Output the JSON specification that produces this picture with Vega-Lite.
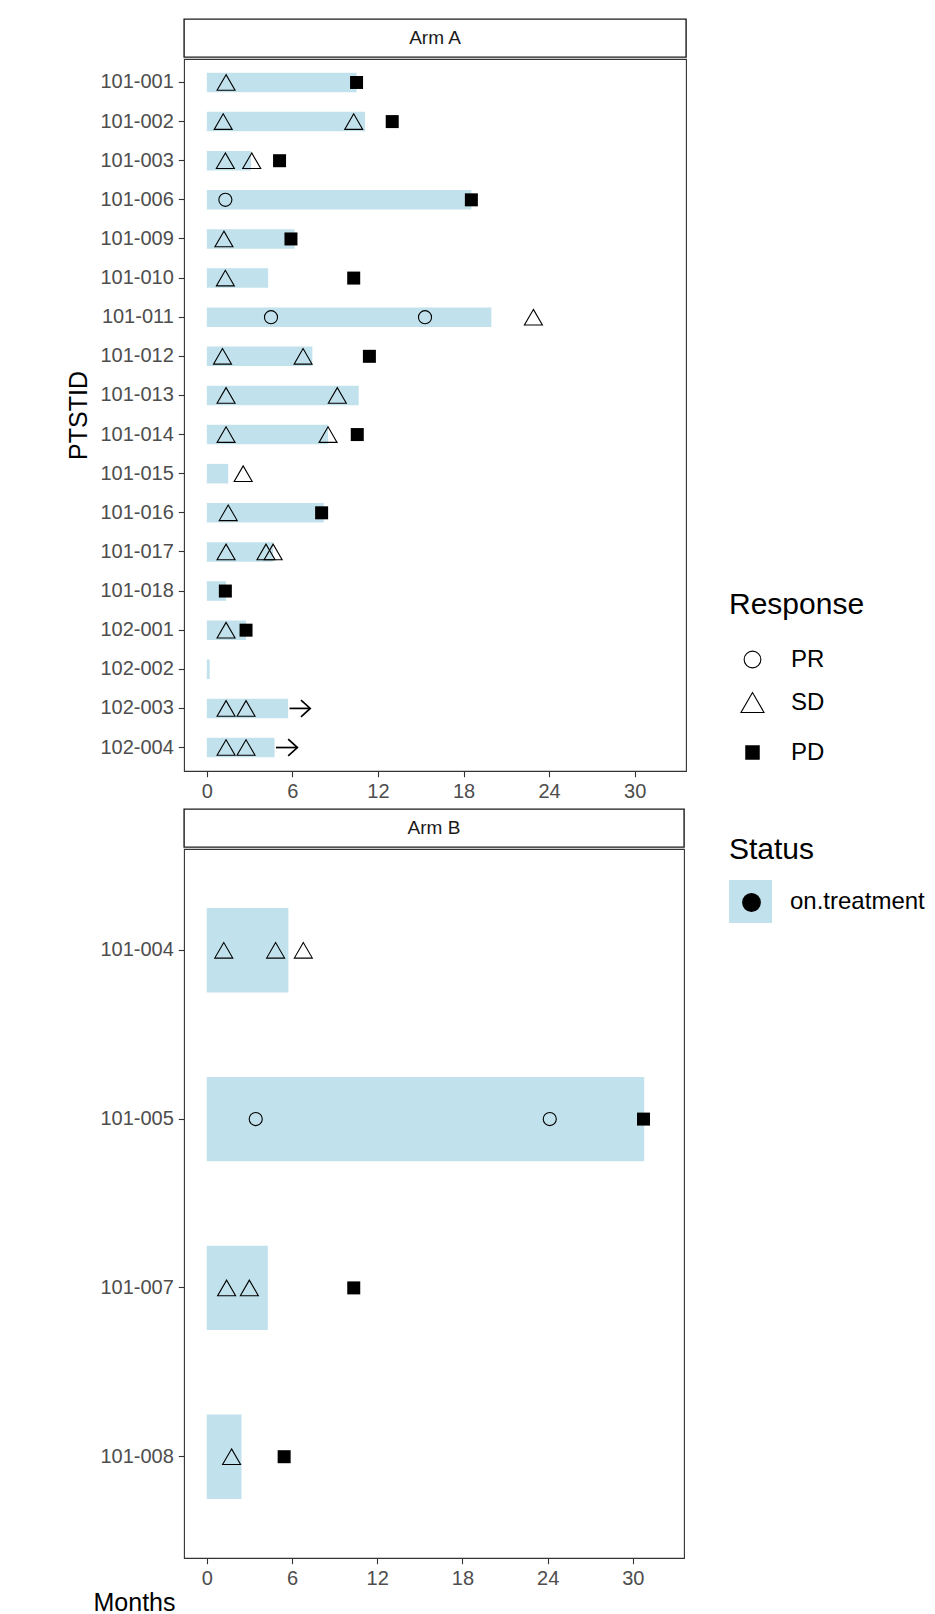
{
  "$schema": "https://vega.github.io/schema/vega-lite/v6.json",
  "padding": {"left": 66, "top": 18, "right": 5, "bottom": 0},
  "config": {
    "font": "Liberation Sans",
    "view": {"stroke": "#333333", "strokeWidth": 1.1},
    "axis": {
      "grid": false, "domain": false,
      "tickColor": "#333333", "tickWidth": 1.1, "tickSize": 5.7,
      "labelColor": "#4D4D4D", "labelFontSize": 20, "labelFont": "Liberation Sans",
      "titleColor": "black", "titleFontSize": 25, "titleFontWeight": "normal", "titleFont": "Liberation Sans"
    },
    "legend": {
      "titleFont": "Liberation Sans", "labelFont": "Liberation Sans",
      "titleColor": "black", "labelColor": "black", "titleFontWeight": "normal"
    }
  },
  "datasets": {
    "bars": [
      {"arm": "Arm A", "id": "101-001", "end": 10.5, "status": "on.treatment"},
      {"arm": "Arm A", "id": "101-002", "end": 11.1, "status": "on.treatment"},
      {"arm": "Arm A", "id": "101-003", "end": 3.1, "status": "on.treatment"},
      {"arm": "Arm A", "id": "101-006", "end": 18.55, "status": "on.treatment"},
      {"arm": "Arm A", "id": "101-009", "end": 6.15, "status": "on.treatment"},
      {"arm": "Arm A", "id": "101-010", "end": 4.3, "status": "on.treatment"},
      {"arm": "Arm A", "id": "101-011", "end": 19.95, "status": "on.treatment"},
      {"arm": "Arm A", "id": "101-012", "end": 7.4, "status": "on.treatment"},
      {"arm": "Arm A", "id": "101-013", "end": 10.65, "status": "on.treatment"},
      {"arm": "Arm A", "id": "101-014", "end": 8.5, "status": "on.treatment"},
      {"arm": "Arm A", "id": "101-015", "end": 1.5, "status": "on.treatment"},
      {"arm": "Arm A", "id": "101-016", "end": 8.2, "status": "on.treatment"},
      {"arm": "Arm A", "id": "101-017", "end": 4.65, "status": "on.treatment"},
      {"arm": "Arm A", "id": "101-018", "end": 1.35, "status": "on.treatment"},
      {"arm": "Arm A", "id": "102-001", "end": 2.75, "status": "on.treatment"},
      {"arm": "Arm A", "id": "102-002", "end": 0.2, "status": "on.treatment"},
      {"arm": "Arm A", "id": "102-003", "end": 5.7, "status": "on.treatment"},
      {"arm": "Arm A", "id": "102-004", "end": 4.75, "status": "on.treatment"},
      {"arm": "Arm B", "id": "101-004", "end": 5.75, "status": "on.treatment"},
      {"arm": "Arm B", "id": "101-005", "end": 30.8, "status": "on.treatment"},
      {"arm": "Arm B", "id": "101-007", "end": 4.3, "status": "on.treatment"},
      {"arm": "Arm B", "id": "101-008", "end": 2.45, "status": "on.treatment"}
    ],
    "resp": [
      {"arm": "Arm A", "id": "101-001", "t": 1.35, "response": "SD"},
      {"arm": "Arm A", "id": "101-001", "t": 10.5, "response": "PD"},
      {"arm": "Arm A", "id": "101-002", "t": 1.15, "response": "SD"},
      {"arm": "Arm A", "id": "101-002", "t": 10.3, "response": "SD"},
      {"arm": "Arm A", "id": "101-002", "t": 13.0, "response": "PD"},
      {"arm": "Arm A", "id": "101-003", "t": 1.3, "response": "SD"},
      {"arm": "Arm A", "id": "101-003", "t": 3.15, "response": "SD"},
      {"arm": "Arm A", "id": "101-003", "t": 5.1, "response": "PD"},
      {"arm": "Arm A", "id": "101-006", "t": 1.3, "response": "PR"},
      {"arm": "Arm A", "id": "101-006", "t": 18.55, "response": "PD"},
      {"arm": "Arm A", "id": "101-009", "t": 1.2, "response": "SD"},
      {"arm": "Arm A", "id": "101-009", "t": 5.9, "response": "PD"},
      {"arm": "Arm A", "id": "101-010", "t": 1.3, "response": "SD"},
      {"arm": "Arm A", "id": "101-010", "t": 10.3, "response": "PD"},
      {"arm": "Arm A", "id": "101-011", "t": 4.5, "response": "PR"},
      {"arm": "Arm A", "id": "101-011", "t": 15.3, "response": "PR"},
      {"arm": "Arm A", "id": "101-011", "t": 22.9, "response": "SD"},
      {"arm": "Arm A", "id": "101-012", "t": 1.1, "response": "SD"},
      {"arm": "Arm A", "id": "101-012", "t": 6.75, "response": "SD"},
      {"arm": "Arm A", "id": "101-012", "t": 11.4, "response": "PD"},
      {"arm": "Arm A", "id": "101-013", "t": 1.35, "response": "SD"},
      {"arm": "Arm A", "id": "101-013", "t": 9.15, "response": "SD"},
      {"arm": "Arm A", "id": "101-014", "t": 1.35, "response": "SD"},
      {"arm": "Arm A", "id": "101-014", "t": 8.5, "response": "SD"},
      {"arm": "Arm A", "id": "101-014", "t": 10.55, "response": "PD"},
      {"arm": "Arm A", "id": "101-015", "t": 2.55, "response": "SD"},
      {"arm": "Arm A", "id": "101-016", "t": 1.5, "response": "SD"},
      {"arm": "Arm A", "id": "101-016", "t": 8.05, "response": "PD"},
      {"arm": "Arm A", "id": "101-017", "t": 1.35, "response": "SD"},
      {"arm": "Arm A", "id": "101-017", "t": 4.15, "response": "SD"},
      {"arm": "Arm A", "id": "101-017", "t": 4.65, "response": "SD"},
      {"arm": "Arm A", "id": "101-018", "t": 1.3, "response": "PD"},
      {"arm": "Arm A", "id": "102-001", "t": 1.35, "response": "SD"},
      {"arm": "Arm A", "id": "102-001", "t": 2.75, "response": "PD"},
      {"arm": "Arm A", "id": "102-003", "t": 1.35, "response": "SD"},
      {"arm": "Arm A", "id": "102-003", "t": 2.75, "response": "SD"},
      {"arm": "Arm A", "id": "102-004", "t": 1.35, "response": "SD"},
      {"arm": "Arm A", "id": "102-004", "t": 2.75, "response": "SD"},
      {"arm": "Arm B", "id": "101-004", "t": 1.2, "response": "SD"},
      {"arm": "Arm B", "id": "101-004", "t": 4.85, "response": "SD"},
      {"arm": "Arm B", "id": "101-004", "t": 6.8, "response": "SD"},
      {"arm": "Arm B", "id": "101-005", "t": 3.45, "response": "PR"},
      {"arm": "Arm B", "id": "101-005", "t": 24.15, "response": "PR"},
      {"arm": "Arm B", "id": "101-005", "t": 30.75, "response": "PD"},
      {"arm": "Arm B", "id": "101-007", "t": 1.4, "response": "SD"},
      {"arm": "Arm B", "id": "101-007", "t": 3.0, "response": "SD"},
      {"arm": "Arm B", "id": "101-007", "t": 10.35, "response": "PD"},
      {"arm": "Arm B", "id": "101-008", "t": 1.75, "response": "SD"},
      {"arm": "Arm B", "id": "101-008", "t": 5.45, "response": "PD"}
    ],
    "arrows": [
      {"arm": "Arm A", "id": "102-003", "start": 5.8, "stop": 7.25, "key": "on.treatment"},
      {"arm": "Arm A", "id": "102-004", "start": 4.85, "stop": 6.35, "key": "on.treatment"}
    ]
  },
  "spacing": 5,
  "vconcat": [
    {
      "spacing": 0,
      "vconcat": [
        {
          "width": 502, "height": 38,
          "view": {"stroke": "#1A1A1A", "strokeWidth": 1.4},
          "data": {"values": [{"arm": "Arm A"}]},
          "mark": {"type": "text", "fontSize": 19, "color": "#1A1A1A"},
          "encoding": {"text": {"field": "arm"}}
        },
        {
          "width": 502, "height": 712,
          "layer": [
            {
              "data": {"name": "bars"},
              "transform": [{"filter": "datum.arm === 'Arm A'"}],
              "mark": {"type": "bar", "height": {"band": 0.5}},
              "encoding": {
                "y": {"field": "id", "type": "nominal", "sort": "ascending", "scale": {"type": "band", "paddingInner": 0, "paddingOuter": 0.1},
                      "axis": {"title": "PTSTID", "labelPadding": 5, "titlePadding": 8}},
                "x": {"field": "end", "type": "quantitative", "scale": {"domain": [-1.6, 33.6], "nice": false},
                      "axis": {"title": null, "values": [0, 6, 12, 18, 24, 30], "labelPadding": 5}},
                "x2": {"datum": 0},
                "color": {"field": "status", "type": "nominal", "scale": {"range": ["#C1E2EC"]},
                          "legend": {"title": "Status", "orient": "none", "legendX": 545, "legendY": 816,
                                     "titleFontSize": 30, "titlePadding": 15, "labelFontSize": 24, "labelOffset": 18,
                                     "symbolType": "square", "symbolSize": 1849, "symbolStrokeWidth": 0}}
              }
            },
            {
              "data": {"name": "arrows"},
              "mark": {"type": "rule", "strokeWidth": 1.7, "color": "black"},
              "encoding": {
                "y": {"field": "id", "type": "nominal", "sort": "ascending", "scale": {"type": "band", "paddingInner": 0, "paddingOuter": 0.1}},
                "x": {"field": "start", "type": "quantitative"},
                "x2": {"field": "stop"},
                "fill": {"field": "key", "type": "nominal", "scale": {"range": ["black"]},
                         "legend": {"title": null, "orient": "none", "legendX": 558, "legendY": 874,
                                    "symbolType": "circle", "symbolSize": 300, "labelExpr": "''"}}
              }
            },
            {
              "data": {"name": "arrows"},
              "mark": {"type": "point", "shape": "M-1.1,-1L0,0L-1.1,1", "size": 280, "filled": false, "color": "black", "strokeWidth": 1.7, "opacity": 1},
              "encoding": {
                "y": {"field": "id", "type": "nominal", "sort": "ascending", "scale": {"type": "band", "paddingInner": 0, "paddingOuter": 0.1}},
                "x": {"field": "stop", "type": "quantitative"}
              }
            },
            {
              "data": {"name": "resp"},
              "transform": [{"filter": "datum.arm === 'Arm A'"}],
              "mark": {"type": "point", "filled": false, "opacity": 1, "stroke": "black", "size": 324},
              "encoding": {
                "y": {"field": "id", "type": "nominal", "sort": "ascending", "scale": {"type": "band", "paddingInner": 0, "paddingOuter": 0.1}},
                "x": {"field": "t", "type": "quantitative"},
                "shape": {"field": "response", "type": "nominal",
                          "scale": {"domain": ["PR", "SD", "PD"], "range": [
                            "M0.727,0A0.727,0.727,0,1,1,-0.727,0A0.727,0.727,0,1,1,0.727,0Z",
                            "M0,-0.866L-1,0.866L1,0.866Z",
                            "M-0.3,-0.3H0.3V0.3H-0.3Z"]},
                          "legend": {"title": "Response", "orient": "none", "legendX": 545, "legendY": 571,
                                     "titleFontSize": 30, "titlePadding": 27, "labelFontSize": 24,
                                     "symbolOffset": 8, "labelOffset": 23,
                                     "rowPadding": 18, "symbolSize": 529}},
                "strokeWidth": {"field": "response", "type": "nominal",
                                "scale": {"type": "ordinal", "domain": ["PR", "SD", "PD"], "range": [1.1, 1.1, 7.6]}}
              }
            }
          ]
        }
      ]
    },
    {
      "spacing": 0,
      "vconcat": [
        {
          "width": 500, "height": 38,
          "view": {"stroke": "#1A1A1A", "strokeWidth": 1.4},
          "data": {"values": [{"arm": "Arm B"}]},
          "mark": {"type": "text", "fontSize": 19, "color": "#1A1A1A"},
          "encoding": {"text": {"field": "arm"}}
        },
        {
          "width": 500, "height": 709,
          "layer": [
            {
              "data": {"name": "bars"},
              "transform": [{"filter": "datum.arm === 'Arm B'"}],
              "mark": {"type": "bar", "height": {"band": 0.5}},
              "encoding": {
                "y": {"field": "id", "type": "nominal", "sort": "ascending", "scale": {"type": "band", "paddingInner": 0, "paddingOuter": 0.1},
                      "axis": {"title": null, "labelPadding": 5}},
                "x": {"field": "end", "type": "quantitative", "scale": {"domain": [-1.6, 33.6], "nice": false},
                      "axis": {"title": "Months", "values": [0, 6, 12, 18, 24, 30], "labelPadding": 5,
                               "titleAnchor": "start", "titleAlign": "left", "titleX": -91, "titleY": 52, "titleBaseline": "alphabetic"}},
                "x2": {"datum": 0},
                "color": {"field": "status", "type": "nominal"}
              }
            },
            {
              "data": {"name": "resp"},
              "transform": [{"filter": "datum.arm === 'Arm B'"}],
              "mark": {"type": "point", "filled": false, "opacity": 1, "stroke": "black", "size": 324},
              "encoding": {
                "y": {"field": "id", "type": "nominal", "sort": "ascending", "scale": {"type": "band", "paddingInner": 0, "paddingOuter": 0.1}},
                "x": {"field": "t", "type": "quantitative"},
                "shape": {"field": "response", "type": "nominal",
                          "scale": {"domain": ["PR", "SD", "PD"], "range": [
                            "M0.727,0A0.727,0.727,0,1,1,-0.727,0A0.727,0.727,0,1,1,0.727,0Z",
                            "M0,-0.866L-1,0.866L1,0.866Z",
                            "M-0.3,-0.3H0.3V0.3H-0.3Z"]}},
                "strokeWidth": {"field": "response", "type": "nominal",
                                "scale": {"type": "ordinal", "domain": ["PR", "SD", "PD"], "range": [1.1, 1.1, 7.6]}}
              }
            }
          ]
        }
      ]
    }
  ]
}
